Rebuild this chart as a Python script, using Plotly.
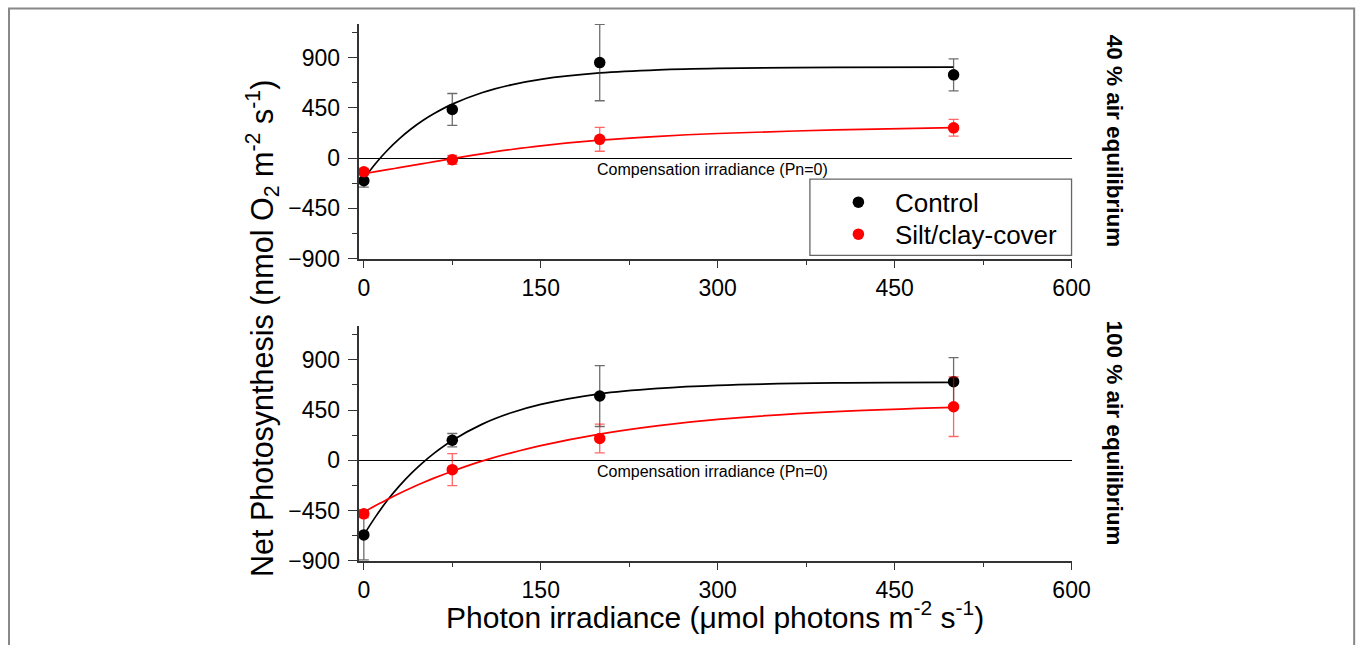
import plotly.graph_objects as go

# ---------------- data ----------------
irradiance = [0, 75, 200, 500]

# 40 % air equilibrium (top panel)
top_control = [-203, 435, 855, 745]
top_control_err = [57, 143, 342, 143]
top_silt = [-122, -15, 168, 271]
top_silt_err = [30, 40, 107, 75]

# 100 % air equilibrium (bottom panel)
bot_control = [-669, 180, 576, 705]
bot_control_err = [225, 60, 273, 216]
bot_silt = [-480, -84, 195, 480]
bot_silt_err = [33, 143, 129, 267]

# fitted P-E curves
fit_x = [0, 10, 20, 30, 40, 50, 60, 75, 100, 125, 150, 200, 250, 300, 400, 500]
top_control_fit = [-185, -48, 70, 172, 260, 336, 401, 483, 585, 656, 705, 762, 790, 803, 812, 814]
top_silt_fit = [-140, -122, -104, -86, -68, -50, -32, -5, 38, 77, 110, 160, 195, 220, 252, 272]
bot_control_fit = [-669, -505, -359, -232, -120, -21, 67, 178, 322, 426, 501, 596, 645, 672, 693, 698]
bot_silt_fit = [-465, -405, -350, -297, -248, -202, -158, -98, -8, 67, 132, 235, 311, 367, 436, 474]

x_ticks = [0, 150, 300, 450, 600]
y_ticks = [-900, -450, 0, 450, 900]
panel_labels = ["40 % air equilibrium", "100 % air equilibrium"]
series_names = ["Control", "Silt/clay-cover"]

FONT = "Liberation Sans, Arial, sans-serif"
W, H = 1376, 657
SX, SY = 0.9868, 0.979   # page-to-picture scale observed in the rendered picture


def px(x):
    return (x / SX) / W


def py(y):
    return 1 - (y / SY) / H


fig = go.Figure()

panels = [
    ("x", "y", top_control, top_control_err, top_silt, top_silt_err, top_control_fit, top_silt_fit, True),
    ("x2", "y2", bot_control, bot_control_err, bot_silt, bot_silt_err, bot_control_fit, bot_silt_fit, False),
]
for xa, ya, c, ce, s, se, cf, sf, show in panels:
    fig.add_trace(go.Scatter(x=fit_x, y=cf, mode="lines", line=dict(color="black", width=1.7, shape="spline"),
                             xaxis=xa, yaxis=ya, showlegend=False, hoverinfo="skip"))
    fig.add_trace(go.Scatter(x=fit_x, y=sf, mode="lines", line=dict(color="#ff0000", width=1.7, shape="spline"),
                             xaxis=xa, yaxis=ya, showlegend=False, hoverinfo="skip"))
    fig.add_trace(go.Scatter(x=irradiance, y=c, mode="markers", name=series_names[0], legend="legend",
                             marker=dict(color="black", size=11.5),
                             error_y=dict(type="data", array=ce, color="rgba(60,60,60,0.75)", thickness=1.3, width=5),
                             xaxis=xa, yaxis=ya, showlegend=show))
    fig.add_trace(go.Scatter(x=irradiance, y=s, mode="markers", name=series_names[1], legend="legend2",
                             marker=dict(color="#ff0000", size=11.5),
                             error_y=dict(type="data", array=se, color="rgba(255,0,0,0.6)", thickness=1.3, width=5),
                             xaxis=xa, yaxis=ya, showlegend=show))

xdom = [px(358), px(1072)]
common_x = dict(range=[-4.5, 600], tickvals=x_ticks, ticks="outside", ticklen=8, tickwidth=1.3,
                tickcolor="#333", showline=True, linecolor="#333", linewidth=1.6, showgrid=False,
                zeroline=False, tickfont=dict(family=FONT, size=23, color="black"),
                minor=dict(dtick=75, tick0=0, ticks="outside", ticklen=5, tickwidth=1.2, tickcolor="#333"))
common_y = dict(range=[-900, 1200], tickvals=y_ticks, ticks="outside", ticklen=9, tickwidth=1.3,
                tickcolor="#333", showline=True, linecolor="#333", linewidth=1.6, showgrid=False,
                zeroline=True, zerolinecolor="black", zerolinewidth=1.4,
                tickfont=dict(family=FONT, size=23, color="black"), ticklabelstandoff=3,
                minor=dict(dtick=225, tick0=0, ticks="outside", ticklen=5, tickwidth=1.2, tickcolor="#333"))

LEG_X = 833 / W
legend_common = dict(xanchor="left", yanchor="middle", bgcolor="rgba(0,0,0,0)", borderwidth=0,
                     font=dict(family=FONT, size=26, color="black"), itemwidth=63)

fig.update_layout(
    width=W, height=H, autosize=False,
    margin=dict(l=0, r=0, t=0, b=0),
    paper_bgcolor="white", plot_bgcolor="white",
    xaxis=dict(domain=xdom, anchor="y", **common_x),
    yaxis=dict(domain=[py(258.3), py(24)], anchor="x", **common_y),
    xaxis2=dict(domain=xdom, anchor="y2", **common_x),
    yaxis2=dict(domain=[py(560), py(326)], anchor="x2", **common_y),
    legend=dict(x=LEG_X, y=py(202), **legend_common),
    legend2=dict(x=LEG_X, y=py(234), **legend_common),
    showlegend=True,
)

# legend frame
fig.add_shape(type="rect", xref="paper", yref="paper", x0=px(810), x1=px(1072),
              y0=py(255), y1=py(179), line=dict(color="#666", width=1.3), fillcolor="white", layer="below")
# outer frame
fig.add_shape(type="rect", xref="paper", yref="paper", x0=px(8), x1=px(1355),
              y0=-0.05, y1=py(8.5), line=dict(color="#888", width=2))

# compensation labels
for xr, yr in [("x", "y"), ("x2", "y2")]:
    fig.add_annotation(x=296, y=0, xref=xr, yref=yr, text="Compensation irradiance (Pn=0)",
                       showarrow=False, xanchor="center", yanchor="top", yshift=-1,
                       font=dict(family=FONT, size=16, color="black"))

# right labels
for txt, yc in zip(panel_labels, [141, 432.5]):
    fig.add_annotation(x=px(1115), y=py(yc), xref="paper", yref="paper", text="<b>" + txt + "</b>",
                       textangle=90, showarrow=False, xanchor="center", yanchor="middle",
                       font=dict(family=FONT, size=22.5, color="black"))

# axis titles
fig.add_annotation(x=px(715), y=py(614), xref="paper", yref="paper",
                   text="Photon irradiance (\u03bcmol photons m<sup>-2</sup> s<sup>-1</sup>)",
                   showarrow=False, xanchor="center", yanchor="middle",
                   font=dict(family=FONT, size=30, color="black"))
fig.add_annotation(x=px(262), y=py(328), xref="paper", yref="paper",
                   text="Net Photosynthesis (nmol O<sub>2</sub> m<sup>-2</sup> s<sup>-1</sup>)",
                   textangle=-90, showarrow=False, xanchor="center", yanchor="middle",
                   font=dict(family=FONT, size=30.5, color="black"))

fig.write_html("out.html")
